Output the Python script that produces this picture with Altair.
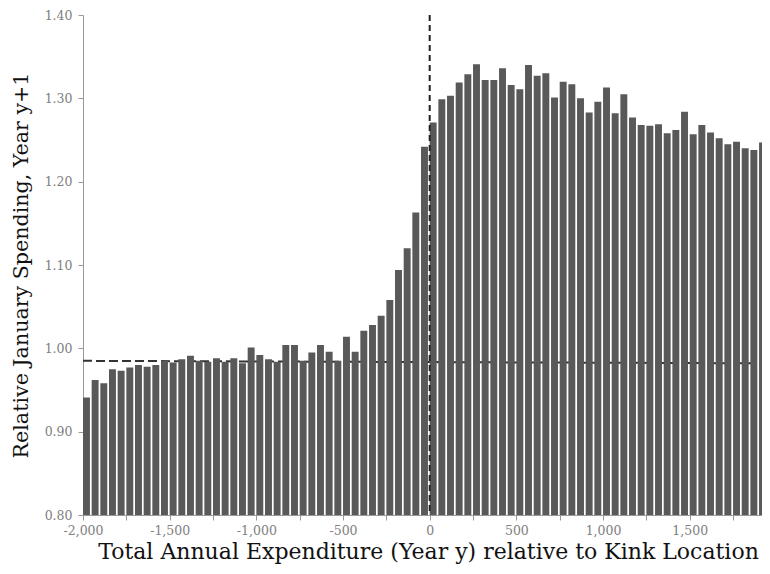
import altair as alt
import pandas as pd

bin_start = list(range(-2000, 2000, 50))
rel_spending = [
    0.941, 0.962, 0.958, 0.975, 0.973, 0.977, 0.980, 0.978, 0.980, 0.985,
    0.983, 0.987, 0.991, 0.985, 0.984, 0.988, 0.984, 0.988, 0.982, 1.001,
    0.992, 0.987, 0.984, 1.004, 1.004, 0.985, 0.995, 1.004, 0.996, 0.985,
    1.014, 0.996, 1.021, 1.028, 1.039, 1.058, 1.094, 1.120, 1.163, 1.242,
    1.271, 1.299, 1.303, 1.319, 1.329, 1.341, 1.322, 1.322, 1.336, 1.316,
    1.311, 1.340, 1.327, 1.330, 1.301, 1.320, 1.317, 1.300, 1.283, 1.296,
    1.313, 1.282, 1.305, 1.277, 1.268, 1.267, 1.269, 1.258, 1.262, 1.284,
    1.257, 1.268, 1.259, 1.252, 1.245, 1.248, 1.240, 1.238, 1.247, 1.235,
]
bar_width_units = 40

counterfactual_x = [-2000, 1960]
counterfactual_y = [0.985, 0.982]
kink_x = [0]

y_ticks = [0.8, 0.9, 1.0, 1.1, 1.2, 1.3, 1.4]
x_ticks = list(range(-2000, 1920, 250))

bars_df = pd.DataFrame({"x": bin_start, "y": rel_spending})
bars_df["x2"] = bars_df["x"] + bar_width_units
cf_df = pd.DataFrame({"x": counterfactual_x, "y": counterfactual_y})
kink_df = pd.DataFrame({"x": kink_x})

serif = "DejaVu Serif"
xscale = alt.Scale(domain=[-2000, 1917], nice=False, zero=False)
yscale = alt.Scale(domain=[0.8, 1.4], nice=False, zero=False)

x_axis = alt.Axis(
    values=x_ticks,
    labelExpr="datum.value % 500 == 0 ? replace(format(datum.value, ','), '\u2212', '-') : ''",
    title="Total Annual Expenditure (Year y) relative to Kink Location",
    titleFont=serif, titleFontSize=22, titleFontWeight="normal", titleColor="#111",
    titlePadding=5, titleX=345, titleAnchor="middle",
    labelFont=serif, labelFontSize=12.5, labelColor="#808080", labelOverlap=False,
    labelFlush=False, labelPadding=4,
    domainColor="#999", tickColor="#999", tickSize=5, grid=False,
)
y_axis = alt.Axis(
    values=y_ticks, format=".2f",
    title="Relative January Spending, Year y+1",
    titleFont=serif, titleFontSize=20.6, titleFontWeight="normal", titleColor="#111",
    titlePadding=13,
    labelFont=serif, labelFontSize=12.5, labelColor="#808080", labelPadding=6,
    labelFlush=False,
    domainColor="#999", tickColor="#999", tickSize=5, grid=False,
)

cf_line = alt.Chart(cf_df).mark_line(
    color="#333", strokeWidth=2, strokeDash=[9, 4], clip=True
).encode(
    x=alt.X("x:Q", scale=xscale, axis=x_axis),
    y=alt.Y("y:Q", scale=yscale, axis=y_axis),
)

bars = alt.Chart(bars_df).mark_rect(color="#595959", clip=True).encode(
    x=alt.X("x:Q", scale=xscale),
    x2="x2:Q",
    y=alt.Y("y:Q", scale=yscale),
    y2=alt.datum(0.8),
)

kink = alt.Chart(kink_df).mark_rule(
    color="#222", strokeWidth=2, strokeDash=[6, 4], clip=True
).encode(x=alt.X("x:Q", scale=xscale))

chart = alt.layer(cf_line, bars, kink).properties(
    width=679, height=500,
    autosize=alt.AutoSizeParams(type="none"),
    padding={"left": 75, "top": 7, "right": 0, "bottom": 51},
    background="white",
).configure_view(stroke=None)

chart.save("out.html", embed_options={"renderer": "svg", "actions": False})
